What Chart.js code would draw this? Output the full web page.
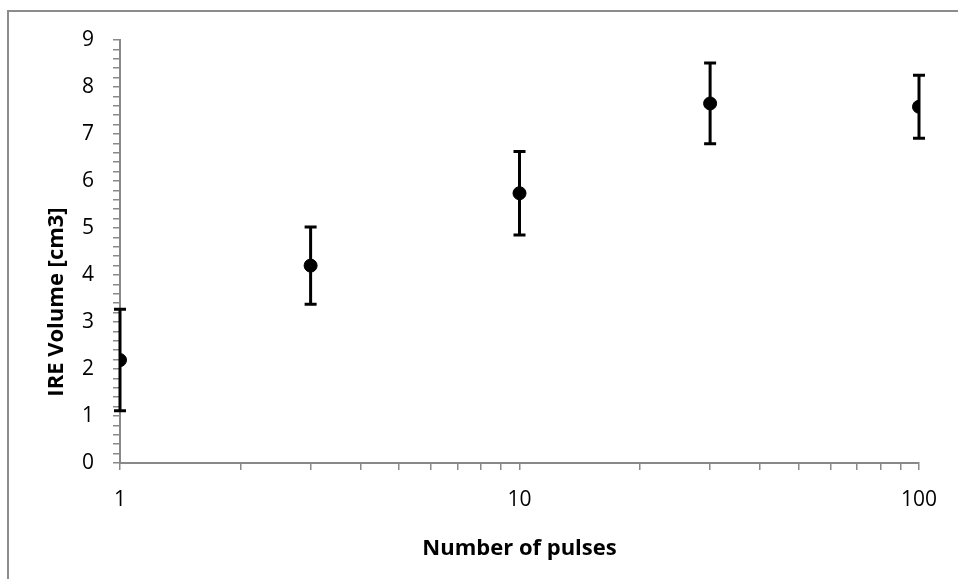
<!DOCTYPE html>
<html>
<head>
<meta charset="utf-8">
<script src="https://cdn.jsdelivr.net/npm/chart.js@4/dist/chart.umd.min.js"></script>
<style>
  html, body { margin: 0; padding: 0; background: #fff; }
  #wrap { width: 958px; height: 579px; position: relative; }
</style>
</head>
<body>
<div id="wrap"><canvas id="c" width="958" height="579"></canvas></div>
<script>
// Number of pulses vs. IRE volume (mean ± SD)
const pulses = [1, 3, 10, 30, 100];
const volume = [2.19, 4.20, 5.74, 7.65, 7.58];
const volumeErr = [1.08, 0.82, 0.89, 0.86, 0.67];

const xMajorTicks = [1, 10, 100];
const xMinorTicks = [2, 3, 4, 5, 6, 7, 8, 9, 20, 30, 40, 50, 60, 70, 80, 90];
const yMajorTicks = [0, 1, 2, 3, 4, 5, 6, 7, 8, 9];
const yMinorStep = 0.2;

const xTitle = 'Number of pulses';
const yTitle = 'IRE Volume [cm3]';

const axisGray = '#898989';
const tickFont = { family: '"Open Sans", sans-serif', size: 21 };
const titleFont = 'bold 22px "Open Sans", sans-serif';

// vertical error bars with flat caps
const errorBars = {
  id: 'errorBars',
  beforeDatasetsDraw(chart) {
    const { ctx, scales: { x, y } } = chart;
    ctx.save();
    ctx.strokeStyle = '#000';
    ctx.lineWidth = 3;
    ctx.lineCap = 'butt';
    pulses.forEach((p, i) => {
      const px = x.getPixelForValue(p);
      const top = y.getPixelForValue(volume[i] + volumeErr[i]);
      const bot = y.getPixelForValue(volume[i] - volumeErr[i]);
      ctx.beginPath();
      ctx.moveTo(px, top); ctx.lineTo(px, bot);
      ctx.moveTo(px - 6, top); ctx.lineTo(px + 6, top);
      ctx.moveTo(px - 6, bot); ctx.lineTo(px + 6, bot);
      ctx.stroke();
    });
    ctx.restore();
  }
};

// frame around the chart and the two axis titles
const frameAndTitles = {
  id: 'frameAndTitles',
  afterDraw(chart) {
    const { ctx, chartArea: a } = chart;
    ctx.save();
    ctx.strokeStyle = '#8c8c8c';
    ctx.lineWidth = 2;
    ctx.strokeRect(8, 11, 1200, 1200);
    ctx.fillStyle = '#000';
    ctx.font = titleFont;
    ctx.textAlign = 'center';
    ctx.textBaseline = 'middle';
    ctx.fillText(xTitle, (a.left + a.right) / 2, 549);
    ctx.translate(57, 302);
    ctx.rotate(-Math.PI / 2);
    ctx.fillText(yTitle, 0, 0);
    ctx.restore();
  }
};

const isMajor = v => Math.abs(v - Math.round(v)) < 1e-6;

new Chart(document.getElementById('c'), {
  type: 'scatter',
  data: {
    datasets: [{
      data: pulses.map((p, i) => ({ x: p, y: volume[i] })),
      backgroundColor: '#000',
      borderColor: '#000',
      pointRadius: 6.5,
      pointHoverRadius: 6.5
    }]
  },
  options: {
    responsive: false,
    animation: false,
    events: [],
    layout: { padding: { left: 0, top: 40, right: 39, bottom: 0 } },
    plugins: { legend: { display: false }, tooltip: { enabled: false } },
    scales: {
      x: {
        type: 'logarithmic',
        min: 1,
        max: 100,
        afterFit(s) { s.height = 116; },
        afterBuildTicks(s) {
          s.ticks = xMajorTicks.concat(xMinorTicks).sort((a, b) => a - b)
            .map(v => ({ value: v, major: xMajorTicks.includes(v) }));
        },
        ticks: {
          autoSkip: false,
          maxRotation: 0,
          padding: 17,
          color: '#000',
          font: tickFont,
          callback: v => xMajorTicks.includes(v) ? String(v) : ''
        },
        grid: { drawOnChartArea: false, color: axisGray, tickLength: 7, lineWidth: 1.5 },
        border: { color: axisGray, width: 2 }
      },
      y: {
        type: 'linear',
        min: 0,
        max: 9,
        afterFit(s) { s.width = 120; },
        afterBuildTicks(s) {
          const t = [];
          const n = Math.round((yMajorTicks[yMajorTicks.length - 1] - yMajorTicks[0]) / yMinorStep);
          for (let i = 0; i <= n; i++) {
            t.push({ value: +(yMajorTicks[0] + i * yMinorStep).toFixed(4) });
          }
          s.ticks = t;
        },
        ticks: {
          autoSkip: false,
          padding: 19,
          color: '#000',
          font: tickFont,
          callback: v => isMajor(v) ? String(Math.round(v)) : ''
        },
        grid: { drawOnChartArea: false, color: axisGray, tickLength: 7, lineWidth: 1.5 },
        border: { color: axisGray, width: 2 }
      }
    }
  },
  plugins: [errorBars, frameAndTitles]
});
</script>
</body>
</html>
